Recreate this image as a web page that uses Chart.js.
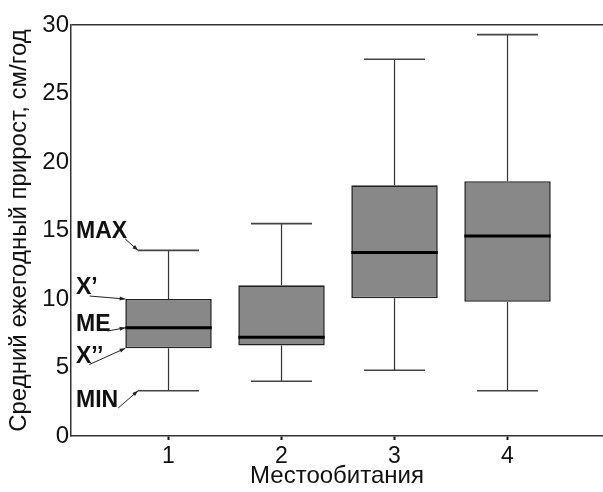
<!DOCTYPE html>
<html lang="ru">
<head>
    <meta charset="UTF-8">
    <title>Средний ежегодный прирост</title>
    <script src="https://cdn.jsdelivr.net/npm/chart.js@4"></script>
</head>
<style>
    body{
        margin: 0;
        background: #ffffff;
    }
    .wrap{
        width: 603px;
        height: 492px;
    }
</style>
<body>
    <div class="wrap">
        <canvas id="boxes" width="603" height="492"></canvas>
    </div>

<script>
    // значения
    let habitats = [1, 2, 3, 4];
    let minVals = [3.3, 4.0, 4.8, 3.3];
    let q1Vals = [6.4, 6.6, 10.05, 9.8];
    let medVals = [7.9, 7.2, 13.4, 14.6];
    let q3Vals = [10.0, 11.0, 18.3, 18.6];
    let maxVals = [13.55, 15.5, 27.5, 29.3];
    let yTicks = [0, 5, 10, 15, 20, 25, 30];

    // подписи-пояснения у первого ящика
    let noteLabels = ['MAX', 'X’', 'ME', 'X’’', 'MIN'];
    let noteY = [14.9, 10.8, 8.1, 5.8, 2.55];

    let fontName = '"Liberation Sans", Arial, sans-serif';
    let capHalf = 0.27;

    let whiskerPlugin = {
        id: 'whiskers',
        afterDatasetsDraw(chart){
            let ctx = chart.ctx;
            let xs = chart.scales.x;
            let ys = chart.scales.y;
            let meta = chart.getDatasetMeta(0);
            ctx.save();
            habitats.forEach((h, i)=>{
                let x = xs.getPixelForValue(h);
                let half = meta.data[i].width / 2;
                let cl = xs.getPixelForValue(h - capHalf);
                let cr = xs.getPixelForValue(h + capHalf);
                ctx.strokeStyle = '#333';
                ctx.lineWidth = 1.2;
                ctx.beginPath();
                ctx.moveTo(x, ys.getPixelForValue(q3Vals[i]));
                ctx.lineTo(x, ys.getPixelForValue(maxVals[i]));
                ctx.moveTo(x, ys.getPixelForValue(q1Vals[i]));
                ctx.lineTo(x, ys.getPixelForValue(minVals[i]));
                ctx.stroke();
                ctx.strokeStyle = '#444';
                ctx.lineWidth = 1.6;
                ctx.beginPath();
                ctx.moveTo(cl, ys.getPixelForValue(maxVals[i]));
                ctx.lineTo(cr, ys.getPixelForValue(maxVals[i]));
                ctx.moveTo(cl, ys.getPixelForValue(minVals[i]));
                ctx.lineTo(cr, ys.getPixelForValue(minVals[i]));
                ctx.stroke();
                ctx.strokeStyle = '#000';
                ctx.lineWidth = 3;
                ctx.beginPath();
                ctx.moveTo(x - half, ys.getPixelForValue(medVals[i]));
                ctx.lineTo(x + half, ys.getPixelForValue(medVals[i]));
                ctx.stroke();
            });

            // пояснения со стрелками
            let x1 = xs.getPixelForValue(habitats[0]);
            let bl = x1 - meta.data[0].width / 2;
            let cl = xs.getPixelForValue(habitats[0] - capHalf);
            let tx = chart.chartArea.left + 5;
            let targets = [
                [cl, maxVals[0]],
                [bl, q3Vals[0]],
                [bl, medVals[0]],
                [bl, q1Vals[0]],
                [cl, minVals[0]]
            ];
            ctx.font = 'bold 23px ' + fontName;
            ctx.textBaseline = 'middle';
            ctx.fillStyle = '#111';
            noteLabels.forEach((t, i)=>{
                let ty = ys.getPixelForValue(noteY[i]);
                ctx.fillText(t, tx, ty);
                let w = ctx.measureText(t).width;
                let sx, sy;
                if(i == 0){ sx = tx + w - 2; sy = ty + 7; }
                else if(i == 2){ sx = tx + w - 3; sy = ty + 6; }
                else if(i == 4){ sx = tx + w; sy = ty + 7; }
                else if(i == 1){ sx = tx + w - 8; sy = ty + 8; }
                else { sx = tx + w - 14; sy = ty + 8; }
                let ex = targets[i][0];
                let ey = ys.getPixelForValue(targets[i][1]);
                ctx.strokeStyle = '#222';
                ctx.lineWidth = 1;
                ctx.beginPath();
                ctx.moveTo(sx, sy);
                ctx.lineTo(ex, ey);
                ctx.stroke();
                let a = Math.atan2(ey - sy, ex - sx);
                ctx.beginPath();
                ctx.moveTo(ex, ey);
                ctx.lineTo(ex - 6 * Math.cos(a - 0.35), ey - 6 * Math.sin(a - 0.35));
                ctx.lineTo(ex - 6 * Math.cos(a + 0.35), ey - 6 * Math.sin(a + 0.35));
                ctx.closePath();
                ctx.fillStyle = '#222';
                ctx.fill();
                ctx.fillStyle = '#111';
            });
            ctx.restore();
        }
    };

    let boxChart = new Chart(document.getElementById('boxes'), {
        type: 'bar',
        data: {
            datasets: [{
                label: 'Прирост',
                data: habitats.map((h, i)=>({x: h, y: [q1Vals[i], q3Vals[i]]})),
                backgroundColor: '#888888',
                borderColor: '#222',
                borderWidth: 1.6,
                borderSkipped: false,
                categoryPercentage: 1,
                barPercentage: 0.765
            }]
        },
        options: {
            responsive: false,
            animation: false,
            layout: {
                padding: {top: 25, right: 0, left: 0, bottom: 0}
            },
            scales: {
                x: {
                    type: 'linear',
                    offset: false,
                    min: 0.137,
                    max: 4.845,
                    afterBuildTicks(scale){
                        scale.ticks = habitats.map(v=>({value: v}));
                    },
                    afterFit(scale){
                        scale.height = 56;
                    },
                    grid: {
                        offset: false,
                        drawOnChartArea: false,
                        drawTicks: true,
                        tickLength: 4,
                        tickWidth: 2,
                        tickColor: '#111'
                    },
                    border: {
                        display: true,
                        color: '#333',
                        width: 1.5
                    },
                    ticks: {
                        color: '#111',
                        padding: 3,
                        font: {family: fontName, size: 23}
                    },
                    title: {
                        display: true,
                        text: 'Местообитания',
                        color: '#111',
                        padding: {top: 0, bottom: 1},
                        font: {family: fontName, size: 24}
                    }
                },
                y: {
                    min: 0,
                    max: 30,
                    afterBuildTicks(scale){
                        scale.ticks = yTicks.map(v=>({value: v}));
                    },
                    afterFit(scale){
                        scale.width = 71;
                    },
                    grid: {
                        drawTicks: false,
                        color: (c)=> c.tick && c.tick.value == 30 ? '#333' : 'rgba(0,0,0,0)',
                        lineWidth: 1.5
                    },
                    border: {
                        display: true,
                        color: '#333',
                        width: 1.5
                    },
                    ticks: {
                        color: '#111',
                        padding: 2,
                        font: {family: fontName, size: 24}
                    },
                    title: {
                        display: true,
                        text: 'Средний ежегодный прирост, см/год',
                        color: '#111',
                        padding: {top: 5, bottom: 0},
                        font: {family: fontName, size: 24}
                    }
                }
            },
            plugins: {
                legend: {display: false},
                tooltip: {enabled: false}
            }
        },
        plugins: [whiskerPlugin]
    });
</script>
</body>
</html>
